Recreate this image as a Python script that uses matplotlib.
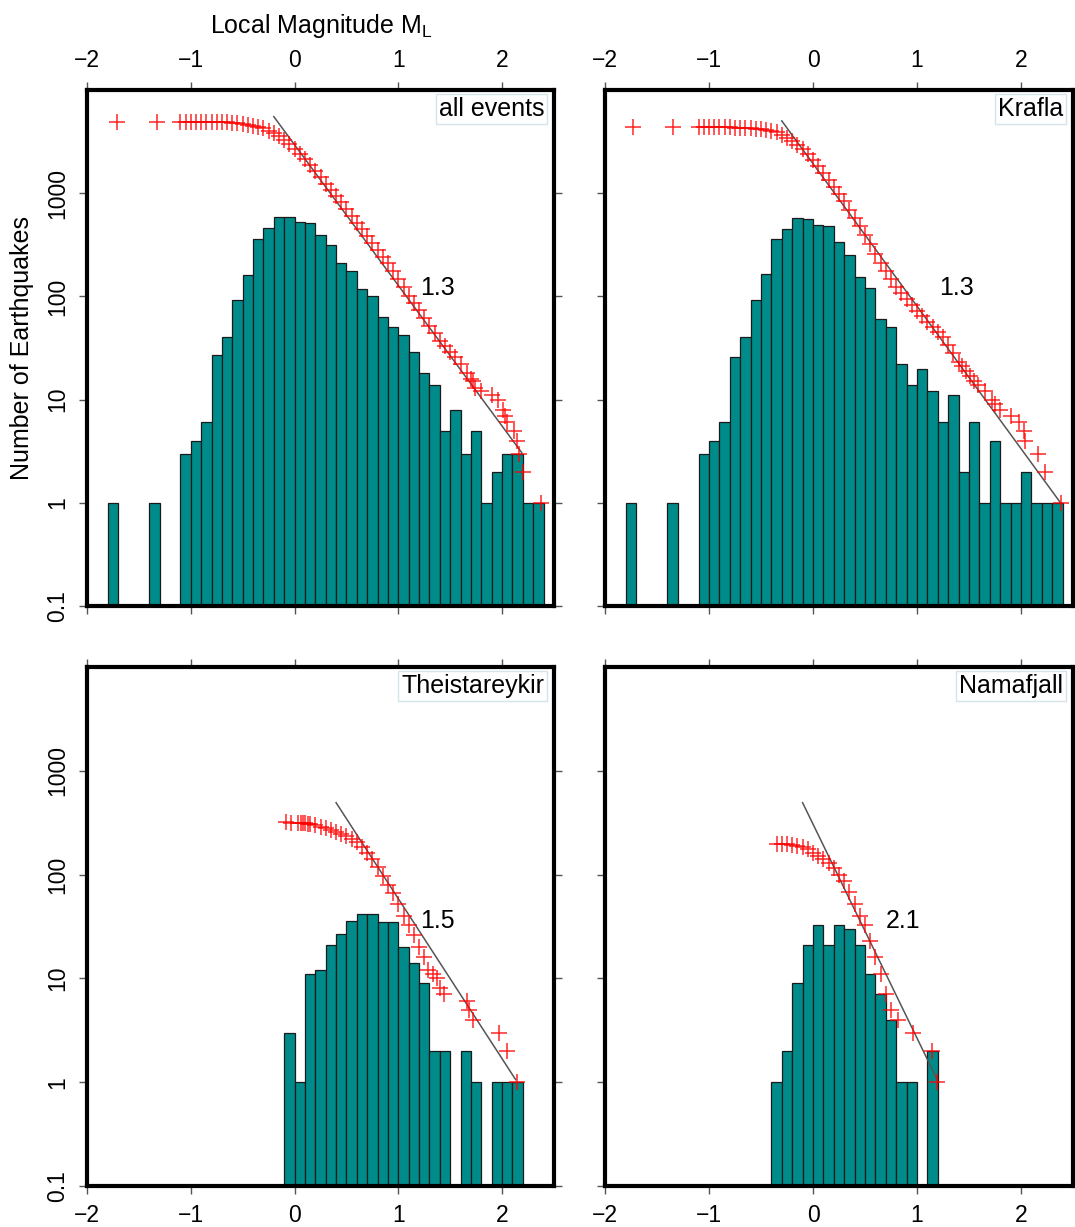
#magnitude-frequency plots, four regions
import matplotlib
matplotlib.use('Agg')
import matplotlib.pyplot as plt
from matplotlib.ticker import NullLocator

plt.rcParams['font.family'] = 'Liberation Sans'
plt.rcParams['mathtext.fontset'] = 'custom'
plt.rcParams['mathtext.rm'] = 'Liberation Sans'

# histogram bins (magnitude bin centres) and counts per region
all_mag = [-1.75, -1.35, -1.05, -0.95, -0.85, -0.75, -0.65, -0.55, -0.45, -0.35, -0.25, -0.15,
           -0.05, 0.05, 0.15, 0.25, 0.35, 0.45, 0.55, 0.65, 0.75, 0.85, 0.95, 1.05, 1.15,
           1.25, 1.35, 1.45, 1.55, 1.65, 1.75, 1.85, 1.95, 2.05, 2.15, 2.25, 2.35]
all_cnt = [1, 1, 3, 4, 6, 27, 40, 92, 163, 359, 455, 590, 590, 524, 512, 390, 314, 212, 176,
           118, 101, 63, 51, 42, 29, 18, 14, 5, 8, 3, 5, 1, 2, 3, 3, 1, 1]
krafla_mag = all_mag
krafla_cnt = [1, 1, 3, 4, 6, 26, 40, 93, 165, 362, 453, 579, 566, 495, 485, 339, 253, 154, 121,
              61, 50, 22, 14, 20, 12, 6, 11, 2, 6, 1, 4, 1, 1, 2, 1, 1, 1]
theis_mag = [-0.05, 0.05, 0.15, 0.25, 0.35, 0.45, 0.55, 0.65, 0.75, 0.85, 0.95, 1.05, 1.15,
             1.25, 1.35, 1.45, 1.65, 1.75, 1.95, 2.05, 2.15]
theis_cnt = [3, 1, 11, 12, 21, 27, 36, 42, 42, 35, 35, 20, 14, 9, 2, 2, 2, 1, 1, 1, 1]
nama_mag = [-0.35, -0.25, -0.15, -0.05, 0.05, 0.15, 0.25, 0.35, 0.45, 0.55, 0.65, 0.75, 0.85,
            0.95, 1.15]
nama_cnt = [1, 2, 9, 21, 33, 21, 33, 30, 21, 11, 7, 4, 1, 1, 2]

# cumulative number of events N(>=M)
all_cum_mag = [-1.71, -1.33, -1.10, -1.05, -1.00, -0.95, -0.90, -0.85, -0.80, -0.75, -0.70,
               -0.65, -0.60, -0.55, -0.50, -0.45, -0.40, -0.35, -0.30, -0.25, -0.20, -0.15,
               -0.10, -0.05, 0.00, 0.05, 0.10, 0.15, 0.20, 0.25, 0.30, 0.35, 0.40, 0.45, 0.50,
               0.55, 0.60, 0.65, 0.70, 0.75, 0.80, 0.85, 0.90, 0.95, 1.00, 1.05, 1.10, 1.15,
               1.20, 1.25, 1.30, 1.35, 1.40, 1.45, 1.50, 1.55, 1.60, 1.66, 1.70, 1.72, 1.74,
               1.80, 1.90, 1.96, 2.01, 2.03, 2.05, 2.11, 2.14, 2.16, 2.20, 2.37]
all_cum_n = [4927, 4926, 4925, 4923, 4921, 4918, 4915, 4910, 4905, 4890, 4870, 4850, 4810,
             4760, 4680, 4590, 4500, 4400, 4250, 4050, 3820, 3550, 3250, 2980, 2690, 2400,
             2140, 1875, 1630, 1420, 1233, 1072, 935, 813, 700, 603, 518, 445, 383, 329, 283,
             243, 209, 177, 147, 122, 102, 87, 74, 62, 52, 44, 37, 33, 29, 26, 22, 18, 16, 15,
             13, 12, 11, 10, 8, 7, 6, 5, 4, 3, 2, 1]
krafla_cum_mag = [-1.73, -1.35, -1.10, -1.05, -1.00, -0.95, -0.90, -0.85, -0.80, -0.75, -0.70,
                  -0.65, -0.60, -0.55, -0.50, -0.45, -0.40, -0.35, -0.30, -0.25, -0.20, -0.15,
                  -0.10, -0.05, 0.00, 0.05, 0.10, 0.15, 0.20, 0.25, 0.30, 0.35, 0.40, 0.45,
                  0.50, 0.55, 0.60, 0.65, 0.70, 0.75, 0.80, 0.85, 0.90, 0.95, 1.00, 1.05, 1.10,
                  1.15, 1.20, 1.25, 1.30, 1.35, 1.40, 1.43, 1.47, 1.51, 1.55, 1.59, 1.65, 1.72,
                  1.75, 1.80, 1.90, 1.98, 2.03, 2.04, 2.16, 2.23, 2.38]
krafla_cum_n = [4362, 4361, 4360, 4359, 4357, 4355, 4352, 4348, 4342, 4330, 4315, 4290, 4260,
                4230, 4190, 4120, 4020, 3900, 3680, 3450, 3230, 2950, 2660, 2400, 2120, 1825,
                1572, 1352, 1151, 980, 832, 692, 577, 479, 393, 319, 259, 213, 177, 147, 124,
                108, 94, 82, 72, 64, 56, 50, 45, 40, 34, 28, 23, 21, 19, 17, 15, 14, 12, 10,
                9, 8, 7, 6, 5, 4, 3, 2, 1]
theis_cum_mag = [-0.08, -0.03, 0.03, 0.06, 0.08, 0.10, 0.13, 0.15, 0.20, 0.25, 0.30, 0.35,
                 0.40, 0.45, 0.50, 0.55, 0.60, 0.65, 0.70, 0.75, 0.80, 0.85, 0.90, 0.95, 1.00,
                 1.05, 1.10, 1.15, 1.20, 1.25, 1.29, 1.33, 1.37, 1.40, 1.44, 1.66, 1.68, 1.72,
                 1.97, 2.05, 2.14]
theis_cum_n = [318, 317, 316, 315, 314, 312, 310, 306, 300, 290, 281, 271, 260, 248, 235, 221,
               205, 185, 163, 140, 118, 98, 80, 66, 52, 40, 33, 26, 20, 16, 12, 11, 10, 8, 7,
               6, 5, 4, 3, 2, 1]
nama_cum_mag = [-0.35, -0.30, -0.25, -0.20, -0.15, -0.10, -0.05, 0.00, 0.05, 0.10, 0.15, 0.20,
                0.25, 0.30, 0.35, 0.40, 0.45, 0.50, 0.55, 0.60, 0.65, 0.70, 0.75, 0.82, 0.96,
                1.14, 1.19]
nama_cum_n = [197, 196, 195, 192, 188, 183, 175, 163, 152, 141, 128, 116, 100, 86, 68, 52, 40,
              33, 23, 16, 11, 7, 5, 4, 3, 2, 1]

# fitted Gutenberg-Richter lines (end points) and b-values
fit_mag = [[-0.20, 2.19], [-0.30, 2.38], [0.40, 2.13], [-0.10, 1.19]]
fit_n = [[5520, 3.05], [5020, 1.0], [493, 1.06], [493, 1.08]]
b_values = ['1.3', '1.3', '1.5', '2.1']
b_pos = [(1.38, 121), (1.38, 121), (1.38, 36), (0.87, 36)]

names = ['all events', 'Krafla', 'Theistareykir', 'Namafjall']
hist_mag = [all_mag, krafla_mag, theis_mag, nama_mag]
hist_cnt = [all_cnt, krafla_cnt, theis_cnt, nama_cnt]
cum_mag = [all_cum_mag, krafla_cum_mag, theis_cum_mag, nama_cum_mag]
cum_n = [all_cum_n, krafla_cum_n, theis_cum_n, nama_cum_n]

W, H = 1075, 1227
fig = plt.figure(figsize=(W / 100, H / 100), dpi=100)

boxes = [(87, 90, 554, 606), (605, 90, 1073, 606), (87, 667, 554, 1186), (605, 667, 1073, 1186)]

for i in range(4):
    l, t, r, b = boxes[i]
    ax = fig.add_axes([l / W, 1 - b / H, (r - l) / W, (b - t) / H])
    ax.set_yscale('log')
    ax.bar(hist_mag[i], hist_cnt[i], width=0.1, color='#008b8b', edgecolor='#1a1a1a',
           linewidth=0.9, zorder=2)
    ax.plot(fit_mag[i], fit_n[i], color='#555555', linewidth=1.1, zorder=3)
    ax.plot(cum_mag[i], cum_n[i], '+', color='red', markersize=11, markeredgewidth=1.1,
            alpha=0.85, zorder=4)
    ax.text(b_pos[i][0], b_pos[i][1], b_values[i], fontsize=18, ha='center', va='center',
            zorder=5)
    ax.text(0.979, 0.986, names[i], transform=ax.transAxes, ha='right', va='top', fontsize=18,
            zorder=6, bbox=dict(boxstyle='square,pad=0.12', fc='white', ec='#d5e3ea', lw=1))

    ax.set_xlim(-2, 2.5)
    ax.set_ylim(0.1, 10000)
    ax.set_xticks([-2, -1, 0, 1, 2])
    ax.set_yticks([0.1, 1, 10, 100, 1000])
    ax.set_yticklabels(['0.1', '1', '10', '100', '1000'], rotation=90, va='center')
    ax.yaxis.set_minor_locator(NullLocator())
    for s in ax.spines.values():
        s.set_linewidth(3)
        s.set_zorder(10)

    top_row = i < 2
    left_col = i % 2 == 0
    ax.tick_params(which='both', direction='out', length=6, width=1, color='#555555',
                   top=True, right=True, labelsize=16.5, pad=7,
                   labeltop=top_row, labelbottom=not top_row, labelleft=left_col,
                   labelright=False)

fig.text(321 / W, 1 - 26 / H, r'Local Magnitude M$_\mathrm{L}$', ha='center', va='center',
         fontsize=18)
fig.text(22 / W, 1 - 348 / H, 'Number of Earthquakes', rotation=90, ha='center',
         va='center', fontsize=18)

fig.savefig('out.png', dpi=100)
